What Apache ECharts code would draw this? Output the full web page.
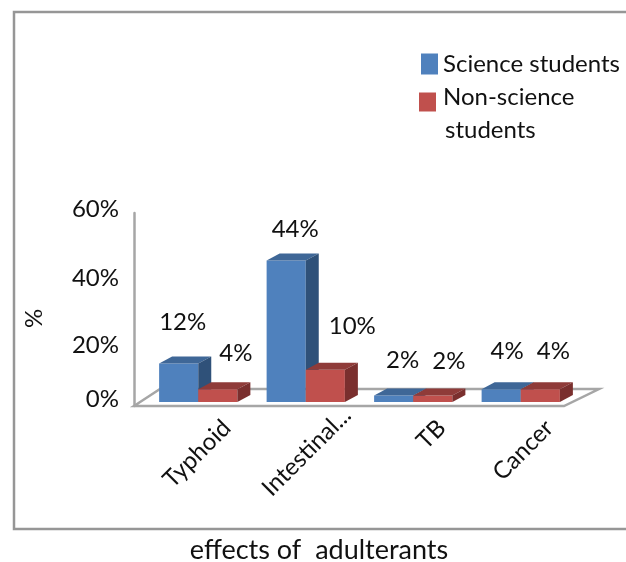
<!DOCTYPE html>
<html>
<head>
<meta charset="utf-8">
<style>html,body{margin:0;padding:0;background:#fff}#main{width:626px;height:562px}</style>
<script src="https://cdn.jsdelivr.net/npm/echarts@6/dist/echarts.min.js"></script>
</head>
<body>
<div id="main"></div>
<script>
//chart data
var categories=['Typhoid','Intestinal...','TB','Cancer'];
var science=[12,44,2,4];
var nonScience=[4,10,2,4];
var yTicks=[0,20,40,60];

//where each value label sits relative to the top of its bar
var scienceLabelShift=[[4,-41],[9,-31],[9,-35],[6,-38]];
var nonScienceLabelShift=[[18,-36],[27,-44],[16,-34],[13,-38]];

var FONT='Lato';
var barShiftX=10.5,barShiftY=-4,depthX=13,depthY=-7;

//one 3d bar: front, top and side faces plus the label
function bar(side,colors,shifts){
    return function(params,api){
        var i=api.value(0),v=api.value(1);
        var base=api.coord([i,0]),top=api.coord([i,v]);
        var w=api.size([1,0])[0]*0.364;
        var cx=base[0]+barShiftX;
        var x0=side==0?cx-w:cx,x1=x0+w;
        var y0=base[1]+barShiftY,y1=top[1]+barShiftY;
        return {type:'group',children:[
            {type:'polygon',shape:{points:[[x0,y0],[x1,y0],[x1,y1],[x0,y1]]},style:{fill:colors[0]}},
            {type:'polygon',shape:{points:[[x0,y1],[x1,y1],[x1+depthX,y1+depthY],[x0+depthX,y1+depthY]]},style:{fill:colors[1]}},
            {type:'polygon',shape:{points:[[x1,y0],[x1+depthX,y0+depthY],[x1+depthX,y1+depthY],[x1,y1]]},style:{fill:colors[2]}},
            {type:'text',z2:10,style:{text:v+'%',x:(x0+x1)/2+shifts[i][0],y:y1+shifts[i][1],align:'center',verticalAlign:'middle',font:'24px '+FONT,fill:'#111'}}
        ]};
    };
}

//floor of the 3d box
function floor(params,api){
    var c=params.coordSys,b=c.y+c.height;
    return {type:'polygon',shape:{points:[[c.x,b],[c.x+26,b-17],[c.x+c.width+35,b-17],[c.x+c.width,b]]},
        style:{fill:'#fff',stroke:'#a6a6a6',lineWidth:2.5}};
}

var myChart=echarts.init(document.getElementById('main'));
var option={
    backgroundColor:'#fff',
    animation:false,
    textStyle:{fontFamily:FONT},
    title:{text:'effects of  adulterants',left:319,top:537,textAlign:'center',padding:0,
        textStyle:{fontFamily:FONT,fontSize:27,fontWeight:'normal',color:'#111'}},
    legend:[
        {data:['Science students'],left:421,top:52,padding:0,icon:'rect',itemWidth:17,itemHeight:21,itemGap:0,
            textStyle:{fontFamily:FONT,fontSize:24,color:'#111'}},
        {data:['Non-science students'],left:419,top:64,padding:0,icon:'rect',itemWidth:17,itemHeight:19,itemGap:0,
            formatter:function(){return '{e| }\n{t|Non-science}\n{s|students}';},
            textStyle:{fontFamily:FONT,fontSize:24,color:'#111',
                rich:{
                    e:{fontFamily:FONT,fontSize:10,lineHeight:23},
                    t:{fontFamily:FONT,fontSize:24,lineHeight:33,color:'#111',padding:[0,0,0,2]},
                    s:{fontFamily:FONT,fontSize:24,lineHeight:33,color:'#111',padding:[0,0,0,4]}
                }}}
    ],
    grid:[
        {left:134,right:62,top:213,bottom:156},
        {left:173,right:23,top:213,bottom:156}
    ],
    xAxis:[
        {type:'category',gridIndex:0,data:categories,show:false},
        {type:'category',gridIndex:1,
            data:categories.map(function(c){
                return c=='Intestinal...'?{value:c,textStyle:{padding:[0,-18,0,0]}}:c;
            }),
            axisLine:{show:false},axisTick:{show:false},
            axisLabel:{interval:0,rotate:45,margin:18,fontFamily:FONT,fontSize:24,color:'#111'}}
    ],
    yAxis:[
        {type:'value',gridIndex:0,min:yTicks[0],max:yTicks[3],interval:20,splitLine:{show:false},
            name:'%',nameLocation:'middle',nameGap:88,nameRotate:90,
            nameTextStyle:{fontFamily:FONT,fontSize:24,color:'#111',padding:[0,18,0,0]},
            axisLine:{show:true,lineStyle:{color:'#a6a6a6',width:2.5}},axisTick:{show:false},
            axisLabel:{margin:15,fontFamily:FONT,fontSize:24,color:'#111',
                formatter:function(v){
                    var k={0:'a',20:'b',40:'c',60:'d'}[v];
                    return '{'+k+'|'+v+'%}';
                },
                rich:{
                    a:{fontFamily:FONT,fontSize:24,color:'#111',padding:[0,0,14,0]},
                    b:{fontFamily:FONT,fontSize:24,color:'#111',padding:[8,0,0,0]},
                    c:{fontFamily:FONT,fontSize:24,color:'#111',padding:[2,0,0,0]},
                    d:{fontFamily:FONT,fontSize:24,color:'#111',padding:[0,0,8,0]}
                }}},
        {type:'value',gridIndex:1,min:0,max:60,interval:20,show:false}
    ],
    series:[
        {type:'custom',name:'floor',silent:true,xAxisIndex:0,yAxisIndex:0,renderItem:floor,data:[[0,0]],z:1},
        {type:'custom',name:'Science students',xAxisIndex:0,yAxisIndex:0,z:2,
            itemStyle:{color:'#4f81bd'},
            renderItem:bar(0,['#4f81bd','#3f6797','#2f5179'],scienceLabelShift),
            data:science.map(function(v,i){return [i,v];})},
        {type:'custom',name:'Non-science students',xAxisIndex:0,yAxisIndex:0,z:3,
            itemStyle:{color:'#c0504d'},
            renderItem:bar(1,['#c0504d','#8f3b39','#7a2f2e'],nonScienceLabelShift),
            data:nonScience.map(function(v,i){return [i,v];})}
    ],
    graphic:[
        {type:'rect',silent:true,z:-1,shape:{x:14,y:12,width:640,height:517},style:{fill:'none',stroke:'#969696',lineWidth:2.5}}
    ]
};
myChart.setOption(option);
</script>
</body>
</html>
